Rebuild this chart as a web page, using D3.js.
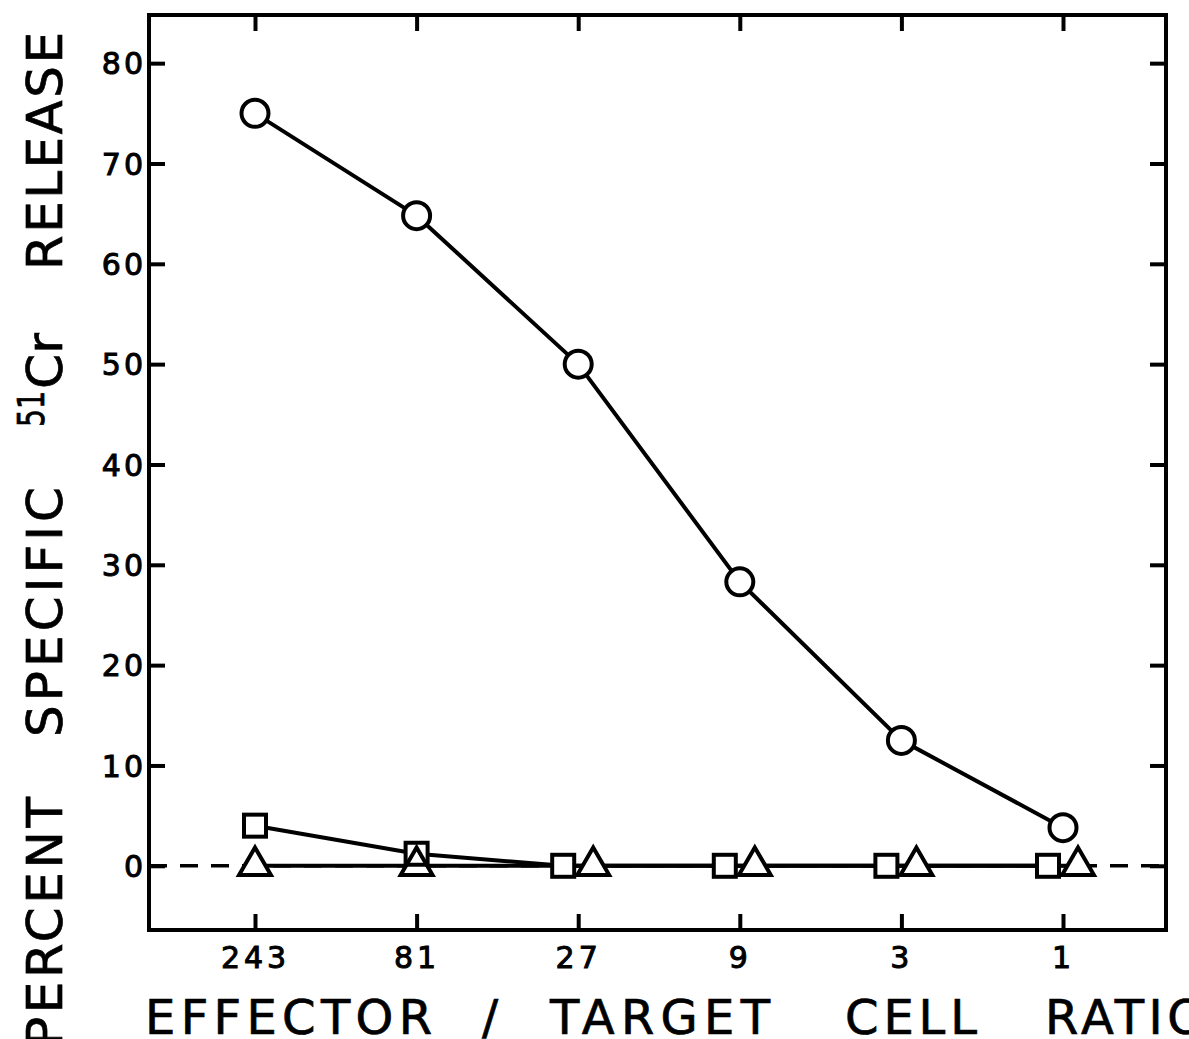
<!DOCTYPE html>
<html>
<head>
<meta charset="utf-8">
<script src="https://cdn.jsdelivr.net/npm/d3@7"></script>
<style>
  body { margin: 0; background: #fff; }
  svg { display: block; }
  text { font-family: "DejaVu Sans", sans-serif; fill: #000; }
</style>
</head>
<body>
<svg id="chart" width="1189" height="1039"></svg>
<script>
// Effector / target cell ratios (log-spaced, threefold dilutions)
const ratios = [243, 81, 27, 9, 3, 1];
const ratioLabels = ["243", "81", "27", "9", "3", "1"];

// Percent specific 51Cr release for each effector population
const circleRelease = [75, 64.8, 50, 28.3, 12.5, 3.8];
const squareRelease = [4, 1.2, 0, 0, 0, 0];
const triangleRelease = [0, 0, 0, 0, 0, 0];

const yTicks = [0, 10, 20, 30, 40, 50, 60, 70, 80];
const yTickLabels = ["0", "10", "20", "30", "40", "50", "60", "70", "80"];

const svg = d3.select("#chart");

const frame = { left: 149, right: 1166, top: 15, bottom: 930 };

const x = d3.scaleLog().domain([243, 1]).range([255, 1063]);
const y = d3.scaleLinear().domain([-6.4, 84.8]).range([frame.bottom, frame.top]);

const ink = "#000";
const axisW = 4;
const tickLen = 16;

// Left axis with inward ticks and labels
const gLeft = svg.append("g")
  .attr("transform", `translate(${frame.left},0)`)
  .call(d3.axisLeft(y).tickValues(yTicks)
    .tickFormat((d, i) => yTickLabels[i])
    .tickSize(-tickLen).tickPadding(3));
gLeft.select(".domain").remove();
gLeft.selectAll("line").attr("stroke", ink).attr("stroke-width", axisW);
gLeft.selectAll("text")
  .attr("font-size", 30).attr("letter-spacing", "3px")
  .attr("font-family", "DejaVu Sans")
  .attr("stroke", ink).attr("stroke-width", 1)
  .attr("dy", "0.36em");

// Right axis: ticks only
const gRight = svg.append("g")
  .attr("transform", `translate(${frame.right},0)`)
  .call(d3.axisRight(y).tickValues(yTicks).tickFormat("").tickSize(-tickLen));
gRight.select(".domain").remove();
gRight.selectAll("line").attr("stroke", ink).attr("stroke-width", axisW);

// Bottom axis with inward ticks and ratio labels
const gBottom = svg.append("g")
  .attr("transform", `translate(0,${frame.bottom})`)
  .call(d3.axisBottom(x).tickValues(ratios)
    .tickFormat((d, i) => ratioLabels[i])
    .tickSize(-tickLen).tickPadding(12));
gBottom.select(".domain").remove();
gBottom.selectAll("line").attr("stroke", ink).attr("stroke-width", axisW);
gBottom.selectAll("text")
  .attr("font-size", 30).attr("letter-spacing", "4px")
  .attr("font-family", "DejaVu Sans")
  .attr("stroke", ink).attr("stroke-width", 1)
  .attr("dy", "0.87em");

// Top axis: ticks only
const gTop = svg.append("g")
  .attr("transform", `translate(0,${frame.top})`)
  .call(d3.axisTop(x).tickValues(ratios).tickFormat("").tickSize(-tickLen));
gTop.select(".domain").remove();
gTop.selectAll("line").attr("stroke", ink).attr("stroke-width", axisW);

// Plot frame
svg.append("rect")
  .attr("x", frame.left).attr("y", frame.top)
  .attr("width", frame.right - frame.left)
  .attr("height", frame.bottom - frame.top)
  .attr("fill", "none").attr("stroke", ink).attr("stroke-width", axisW);

// Dashed zero baseline
svg.append("line")
  .attr("x1", frame.left).attr("x2", frame.right)
  .attr("y1", y(0)).attr("y2", y(0))
  .attr("stroke", ink).attr("stroke-width", 3.5)
  .attr("stroke-dasharray", "18,13");

// Squares and triangles that share a value are nudged apart sideways
const dodge = 15;
const squarePts = ratios.map((r, i) => ({
  cx: x(r) + (squareRelease[i] === triangleRelease[i] ? -dodge : 0),
  cy: y(squareRelease[i])
}));
const trianglePts = ratios.map((r, i) => ({
  cx: x(r) + (squareRelease[i] === triangleRelease[i] ? dodge : 0),
  cy: y(triangleRelease[i])
}));
const circlePts = ratios.map((r, i) => ({ cx: x(r), cy: y(circleRelease[i]) }));

const line = d3.line().x(d => d.cx).y(d => d.cy);

[trianglePts, squarePts, circlePts].forEach(pts => {
  svg.append("path")
    .attr("d", line(pts))
    .attr("fill", "none").attr("stroke", ink)
    .attr("stroke-width", 4).attr("stroke-linejoin", "round");
});

const markStroke = 4;
const triPath = d3.symbol(d3.symbolTriangle, 440)();

// Marker shapes: a white fill pass hides the lines, then an outline pass
// keeps every overlapping outline visible.
["fill", "outline"].forEach(pass => {
  const g = svg.append("g");
  const style = sel => pass === "fill"
    ? sel.attr("fill", "#fff").attr("stroke", "none")
    : sel.attr("fill", "none").attr("stroke", ink).attr("stroke-width", markStroke)
         .attr("stroke-linejoin", "miter");

  g.append("g").selectAll("rect").data(squarePts).join("rect")
    .attr("x", d => d.cx - 11).attr("y", d => d.cy - 11)
    .attr("width", 22).attr("height", 22)
    .call(style);

  g.append("g").selectAll("path").data(trianglePts).join("path")
    .attr("transform", d => `translate(${d.cx},${d.cy})`)
    .attr("d", triPath)
    .call(style);

  g.append("g").selectAll("circle").data(circlePts).join("circle")
    .attr("cx", d => d.cx).attr("cy", d => d.cy).attr("r", 13.5)
    .call(style);
});

// X axis title: narrow lettering with wide spacing
const xTitle = svg.append("text")
  .attr("y", 1034).attr("font-size", 48)
  .attr("stroke", ink).attr("stroke-width", 0.7);
[["EFFECTOR", 145, 287], ["/", 482, 22], ["TARGET", 550, 220],
 ["CELL", 845, 132], ["RATIO", 1045, 160]].forEach(([w, x0, len]) => {
  xTitle.append("tspan").attr("x", x0)
    .attr("textLength", len).attr("lengthAdjust", "spacing")
    .text(w);
});

// Y axis title (rotated)
const yTitle = svg.append("g")
  .attr("transform", "translate(62,0) rotate(-90)")
  .append("text").attr("font-size", 50)
  .attr("stroke", ink).attr("stroke-width", 0.7);
yTitle.append("tspan").attr("x", -1047).attr("textLength", 250)
  .attr("lengthAdjust", "spacing").text("PERCENT");
yTitle.append("tspan").attr("x", -737).attr("textLength", 250)
  .attr("lengthAdjust", "spacing").text("SPECIFIC");
yTitle.append("tspan").attr("x", -427).attr("y", -18).attr("font-size", 38)
  .attr("textLength", 36).attr("lengthAdjust", "spacingAndGlyphs").text("51");
yTitle.append("tspan").attr("x", -389).attr("y", 0)
  .attr("textLength", 56).attr("lengthAdjust", "spacingAndGlyphs").text("Cr");
yTitle.append("tspan").attr("x", -270).attr("textLength", 238)
  .attr("lengthAdjust", "spacing").text("RELEASE");
</script>
</body>
</html>
